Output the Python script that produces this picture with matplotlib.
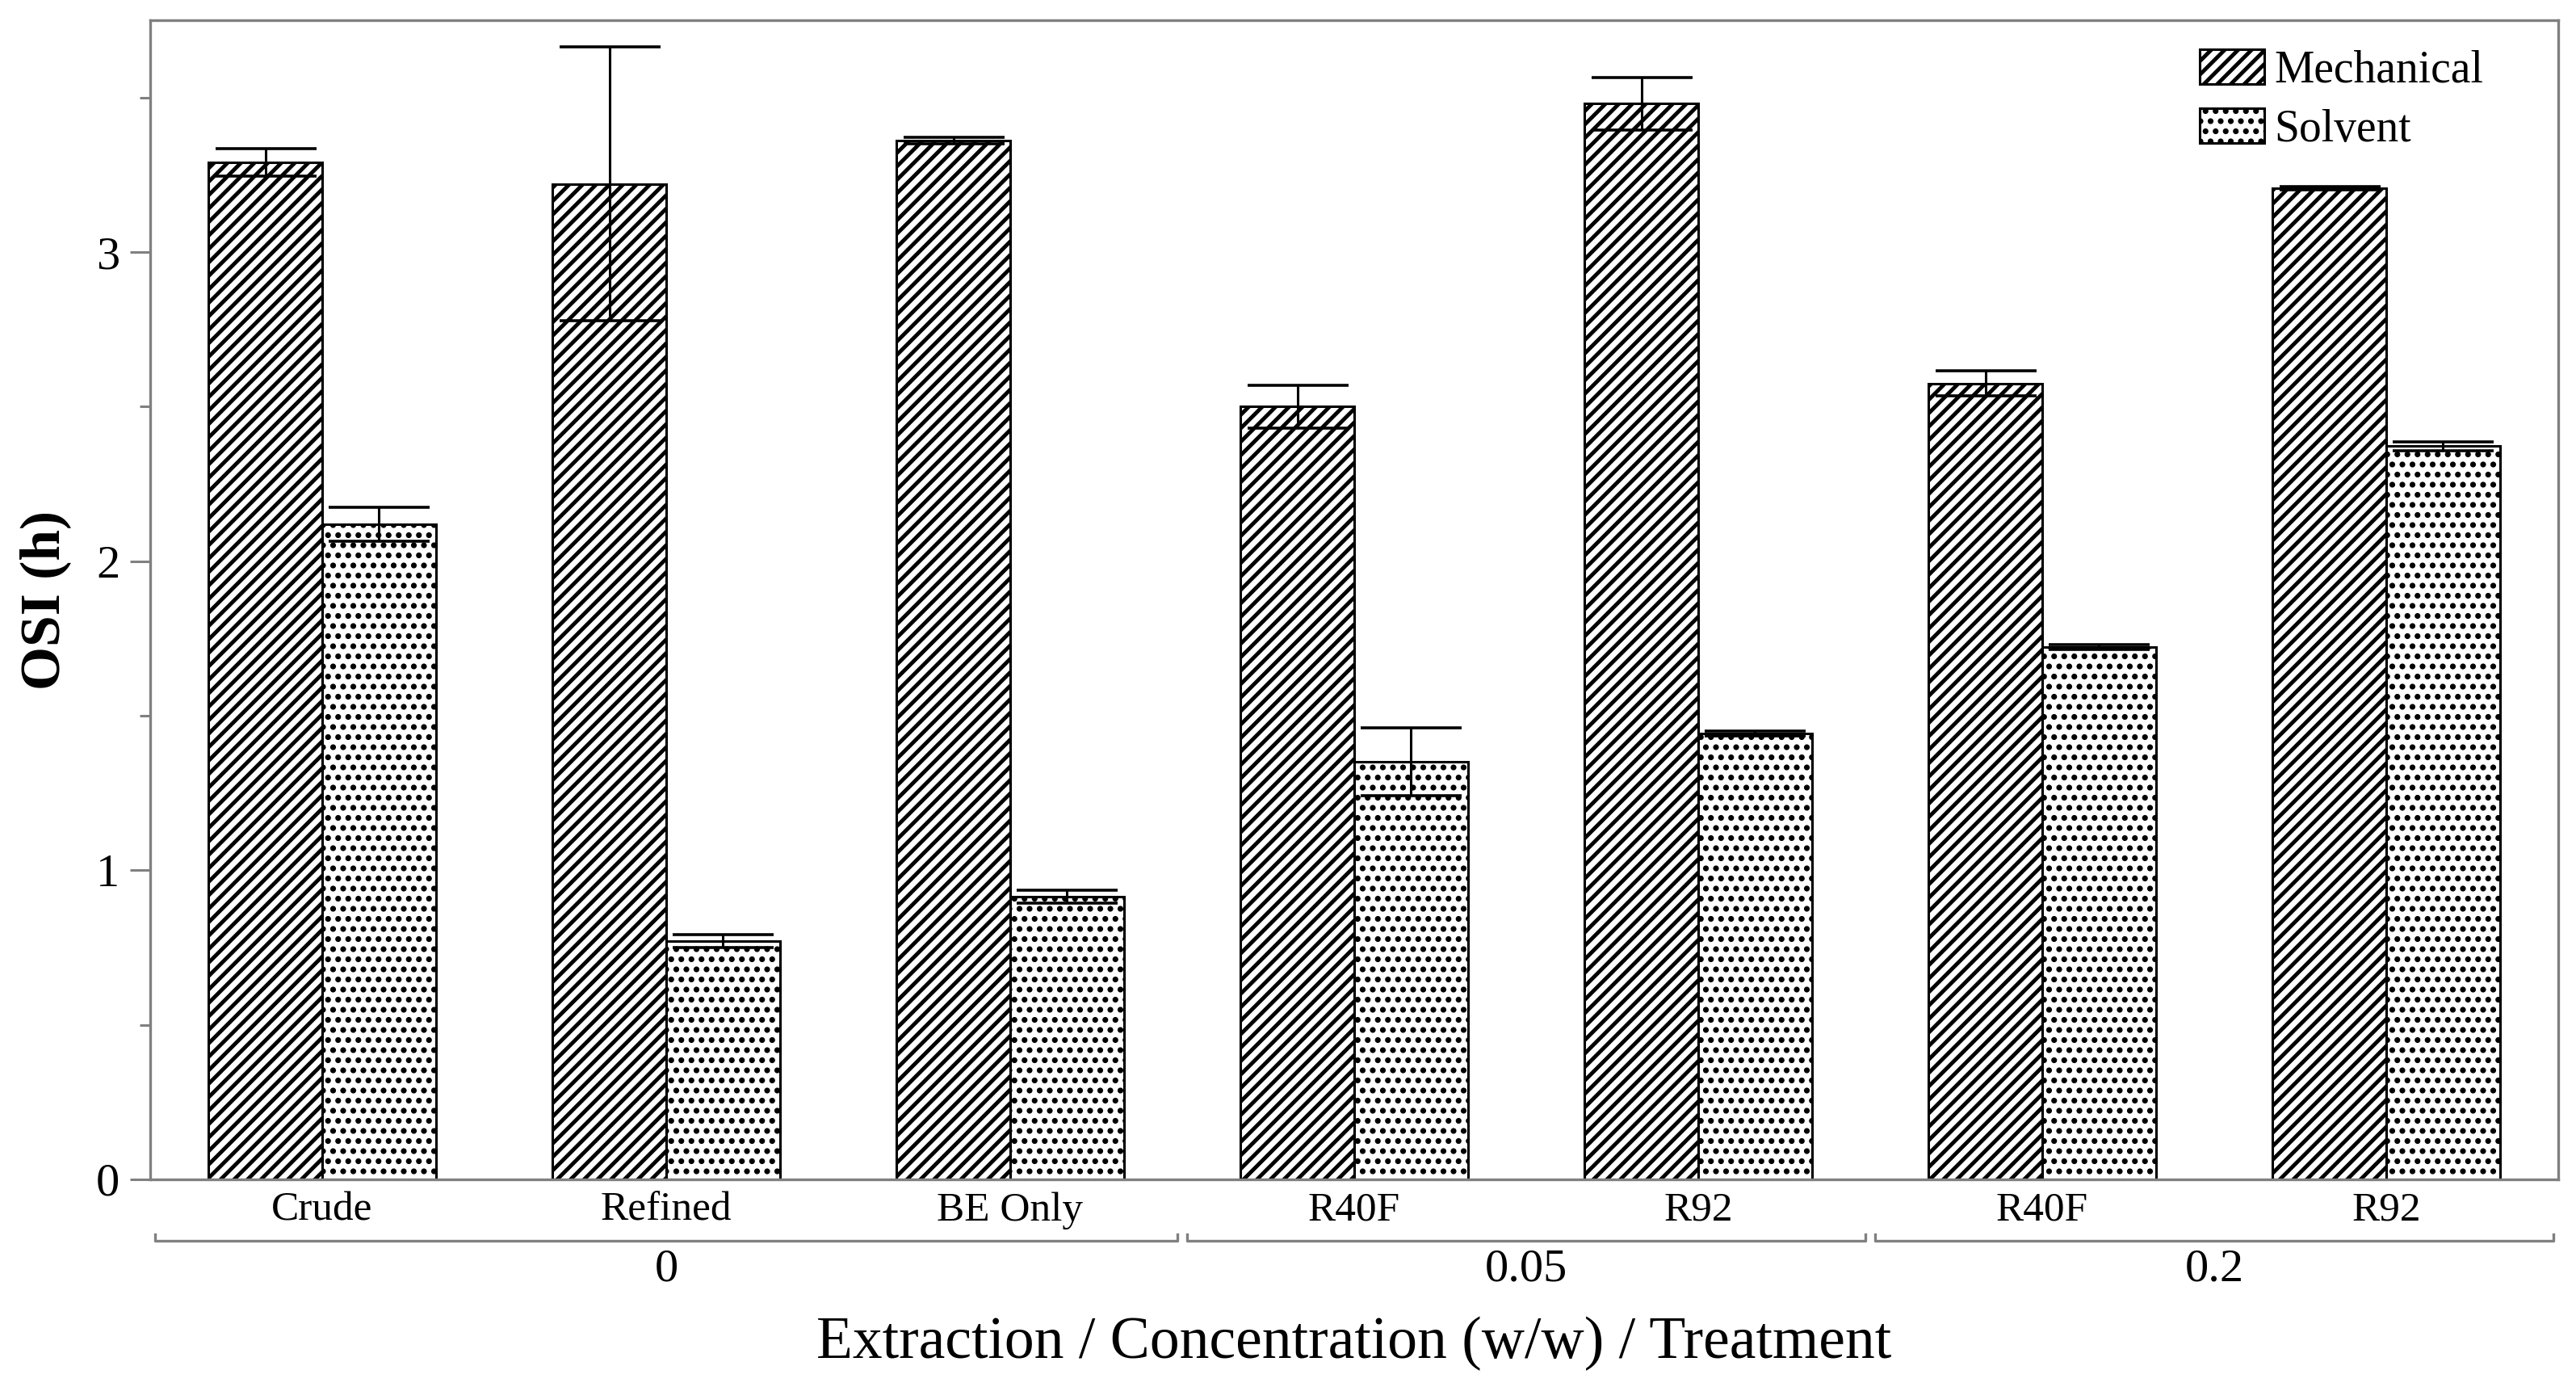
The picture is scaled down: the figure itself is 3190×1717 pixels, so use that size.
import matplotlib
matplotlib.use("Agg")
import matplotlib.pyplot as plt
import matplotlib.transforms as mtransforms
import matplotlib.hatch as mhatch
from matplotlib.ticker import MultipleLocator
import numpy as np

# ---- data ----
treatments = ["Crude", "Refined", "BE Only", "R40F", "R92", "R40F", "R92"]
concentrations = ["0", "0.05", "0.2"]
conc_groups = [(0, 2), (3, 4), (5, 6)]
series_names = ["Mechanical", "Solvent"]
mechanical = [3.29, 3.22, 3.36, 2.50, 3.48, 2.575, 3.207]
mechanical_err = [0.045, 0.443, 0.01, 0.07, 0.085, 0.04, 0.005]
solvent = [2.12, 0.771, 0.915, 1.351, 1.442, 1.723, 2.372]
solvent_err = [0.055, 0.02, 0.02, 0.11, 0.008, 0.008, 0.015]
y_ticks = [0, 1, 2, 3]


# denser, larger dot hatch (closer to the original stipple pattern)
def _dots_init(self, hatch, density):
    self.num_rows = hatch.count('.') * 8
    mhatch.Circles.__init__(self, hatch, density)


mhatch.SmallFilledCircles.__init__ = _dots_init
mhatch.SmallFilledCircles.size = 0.23

plt.rcParams['font.family'] = ['Liberation Serif', 'DejaVu Serif']
plt.rcParams['hatch.color'] = 'black'

STRIPE_LW = 3.5
DOT_LW = 1.0


def set_hatch_lw(patch, lw):
    """Apply a per-patch hatch line width (works whether it is read at creation or draw)."""
    try:
        patch.set_hatch_linewidth(lw)
    except Exception:
        pass
    orig = patch.draw

    def _draw(renderer, _orig=orig, _lw=lw):
        with plt.rc_context({'hatch.linewidth': _lw}):
            return _orig(renderer)
    patch.draw = _draw


fig = plt.figure(figsize=(31.9, 17.17), dpi=100)
ax = fig.add_axes([0.0583, 0.1497, 0.9931 - 0.0583, 0.9854 - 0.1497])

x = np.arange(len(treatments))
w = 0.33
spine_col = '#808080'


def draw(offset, vals, errs, hatch, lw):
    with plt.rc_context({'hatch.linewidth': lw}):
        bars = ax.bar(x + offset, vals, w, yerr=errs, color='white', edgecolor='black',
                      linewidth=2.2, hatch=hatch, zorder=2,
                      error_kw=dict(ecolor='black', elinewidth=2.2, capsize=45,
                                    capthick=2.6, zorder=4))
    for b in bars:
        set_hatch_lw(b, lw)
    return bars


b1 = draw(-w / 2, mechanical, mechanical_err, '//', STRIPE_LW)
b2 = draw(w / 2, solvent, solvent_err, '.', DOT_LW)

ax.set_xlim(-0.5, 6.5)
ax.set_ylim(0, 3.75)
ax.set_yticks(y_ticks)
ax.yaxis.set_minor_locator(MultipleLocator(0.5))
ax.set_xticks(x)
ax.set_xticklabels(treatments, fontsize=37)
ax.tick_params(axis='x', length=0, pad=11)
ax.tick_params(axis='y', which='major', length=18, width=2.2, color=spine_col,
               labelsize=42, pad=9)
ax.tick_params(axis='y', which='minor', length=9.5, width=2.2, color=spine_col)
for s in ax.spines.values():
    s.set_color(spine_col)
    s.set_linewidth(2.4)

# group brackets
trans = mtransforms.blended_transform_factory(ax.transData, ax.transAxes)
yb = -0.053
th = 0.0058
for (i0, i1), lab in zip(conc_groups, concentrations):
    xs = [i0 - 0.485, i0 - 0.485, i1 + 0.485, i1 + 0.485]
    ys = [yb + th, yb, yb, yb + th]
    ax.plot(xs, ys, color=spine_col, lw=2.4, transform=trans, clip_on=False)
    ax.text((i0 + i1) / 2, -0.0775, lab, transform=trans, ha='center', va='center',
            fontsize=42)

ax.set_xlabel("Extraction / Concentration (w/w) / Treatment", fontsize=53)
ax.xaxis.set_label_coords(0.5, -0.118)
ax.set_ylabel("OSI (h)", fontsize=50, fontweight='bold')
ax.yaxis.set_label_coords(-0.0435, 0.5)
ax.yaxis.label.set_va('center')

leg = ax.legend([b1, b2], series_names, loc='upper right',
                bbox_to_anchor=(0.969, 0.975), frameon=False, fontsize=40,
                handlelength=1.45, handleheight=0.82, handletextpad=0.22,
                labelspacing=0.36, borderpad=0, borderaxespad=0)
for p, lw in zip(leg.get_patches(), [STRIPE_LW, DOT_LW]):
    set_hatch_lw(p, lw)

fig.savefig("out.png", dpi=100)
